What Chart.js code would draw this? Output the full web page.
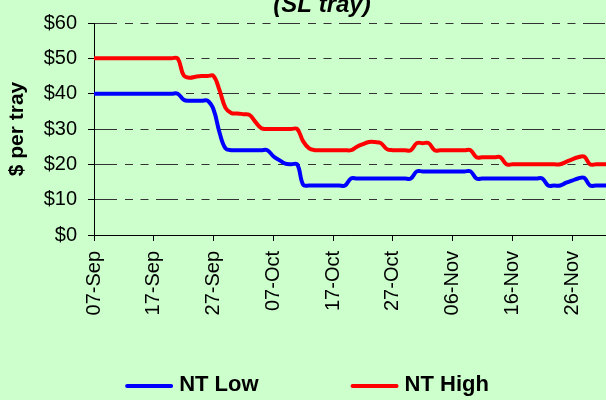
<!DOCTYPE html>
<html>
<head>
<meta charset="utf-8">
<script src="https://cdn.jsdelivr.net/npm/chart.js@4.4.0/dist/chart.umd.min.js"></script>
<style>
  html, body { margin: 0; padding: 0; background: #ccffcc; overflow: hidden; }
  canvas { display: block; }
</style>
</head>
<body>
<canvas id="chart" width="608" height="400"></canvas>
<script>
const titleText = '(SL tray)';
const yTitle = '$ per tray';
const tickLabels = ['07-Sep', '17-Sep', '27-Sep', '07-Oct', '17-Oct', '27-Oct', '06-Nov', '16-Nov', '26-Nov'];

// one value per day, starting 07-Sep
const ntLow = [
  40, 40, 40, 40, 40, 40, 40, 40, 40, 40, 40, 40, 40, 40, 40,
  38.3, 38, 38, 38, 38, 35.5, 29, 24.5,
  24, 24, 24, 24, 24, 24, 24,
  22.3, 21.2, 20.2, 20, 20, 14.2,
  14, 14, 14, 14, 14, 14, 14,
  16, 16, 16, 16, 16, 16, 16, 16, 16, 16, 16,
  18, 18, 18, 18, 18, 18, 18, 18, 18, 18,
  16, 16, 16, 16, 16, 16, 16, 16, 16, 16, 16, 16,
  14, 14, 14, 14.8, 15.4, 16, 16.2, 14, 14, 14, 14
];
const ntHigh = [
  50, 50, 50, 50, 50, 50, 50, 50, 50, 50, 50, 50, 50, 50, 50,
  45.2, 44.5, 44.8, 45, 45, 45, 41, 36,
  34.5, 34.4, 34.2, 34, 32, 30.2,
  30, 30, 30, 30, 30, 30, 26.5, 24.5,
  24, 24, 24, 24, 24, 24, 24,
  25, 25.7, 26.3, 26.3, 26, 24.3,
  24, 24, 24, 24, 26, 26, 26,
  24, 24, 24, 24, 24, 24, 24,
  22, 22, 22, 22, 22,
  20, 20, 20, 20, 20, 20, 20, 20, 20, 20,
  20.7, 21.4, 22, 22.2, 20, 20, 20, 20
];

const FONT = 'Arial, "Liberation Sans", sans-serif';
const toPoints = arr => arr.map((v, i) => ({ x: i, y: v }));

const decor = {
  id: 'decor',
  afterDraw(chart) {
    const ctx = chart.ctx;
    ctx.save();
    // title (top line is cut off in the original)
    ctx.fillStyle = '#000';
    ctx.font = 'italic bold 24px ' + FONT;
    ctx.textAlign = 'center';
    ctx.textBaseline = 'alphabetic';
    ctx.fillText(titleText, 322, 12);

    // legend
    const lineLen = 48, gap = 6, spacing = 92, baseY = 391;
    ctx.font = 'bold 22px ' + FONT;
    const sets = chart.data.datasets;
    const widths = sets.map(d => lineLen + gap + ctx.measureText(d.label).width);
    const total = widths.reduce((a, b) => a + b, 0) + spacing * (sets.length - 1);
    let x = 307 - total / 2;
    sets.forEach((d, i) => {
      ctx.strokeStyle = d.borderColor;
      ctx.lineWidth = 4;
      ctx.lineCap = 'round';
      ctx.beginPath();
      ctx.moveTo(x + 2, baseY - 5);
      ctx.lineTo(x + lineLen - 2, baseY - 5);
      ctx.stroke();
      ctx.fillStyle = '#000';
      ctx.textAlign = 'left';
      ctx.fillText(d.label, x + lineLen + gap, baseY);
      x += widths[i] + spacing;
    });
    ctx.restore();
  }
};

new Chart(document.getElementById('chart'), {
  type: 'line',
  data: {
    datasets: [{
      label: 'NT Low',
      data: toPoints(ntLow),
      borderColor: '#0000ff',
      backgroundColor: '#0000ff',
      borderWidth: 4,
      pointRadius: 0,
      tension: 0.4,
      fill: false
    }, {
      label: 'NT High',
      data: toPoints(ntHigh),
      borderColor: '#ff0000',
      backgroundColor: '#ff0000',
      borderWidth: 4,
      pointRadius: 0,
      tension: 0.4,
      fill: false
    }]
  },
  options: {
    responsive: false,
    animation: false,
    layout: { padding: { top: 18, right: 0, bottom: 0, left: 0 } },
    plugins: {
      legend: { display: false },
      title: { display: false },
      tooltip: { enabled: false }
    },
    scales: {
      x: {
        type: 'linear',
        min: 0,
        max: ntLow.length - 1,
        afterFit: s => { s.height = 165; },
        border: { color: '#000', width: 1 },
        grid: { drawOnChartArea: false, drawTicks: true, tickLength: 6, tickColor: '#000' },
        ticks: {
          stepSize: 10,
          includeBounds: false,
          autoSkip: false,
          minRotation: 90,
          maxRotation: 90,
          padding: 10,
          color: '#000',
          font: { family: FONT, size: 20 },
          callback: v => tickLabels[v / 10]
        }
      },
      y: {
        min: 0,
        max: 60,
        afterFit: s => { s.width = 94; },
        border: { color: '#000', width: 1, dash: [22, 8, 8, 7.5, 8, 7.5] },
        grid: {
          color: '#333',
          lineWidth: 1,
          drawTicks: true,
          tickLength: 6,
          tickColor: '#000',
          tickBorderDash: []
        },
        ticks: {
          stepSize: 10,
          padding: 11,
          color: '#000',
          font: { family: FONT, size: 20 },
          callback: v => '$' + v
        },
        title: {
          display: true,
          text: yTitle,
          color: '#000',
          font: { family: FONT, size: 21, weight: 'bold' },
          padding: { top: 5, bottom: 0 }
        }
      }
    }
  },
  plugins: [decor]
});
</script>
</body>
</html>
